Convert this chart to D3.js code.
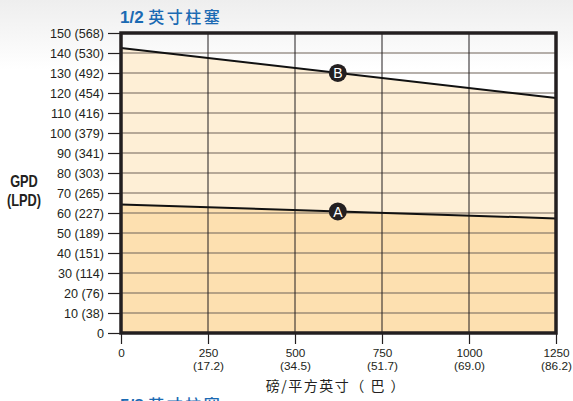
<!DOCTYPE html>
<html>
<head>
<meta charset="utf-8">
<script src="https://cdn.jsdelivr.net/npm/d3@7"></script>
<style>
  html, body { margin: 0; padding: 0; }
  body { width: 573px; height: 401px; overflow: hidden;
         background: linear-gradient(#eeeeee 0px, #ffffff 70px); }
  svg text { font-family: "Liberation Sans", Arial, sans-serif; fill: #231f20; }
</style>
</head>
<body>
<div id="chart"></div>
<script>
// datos
var pressureTicks = [0, 250, 500, 750, 1000, 1250];
var barTicks = ["", "(17.2)", "(34.5)", "(51.7)", "(69.0)", "(86.2)"];
var gpdTicks = [0, 10, 20, 30, 40, 50, 60, 70, 80, 90, 100, 110, 120, 130, 140, 150];
var lpdTicks = ["", "(38)", "(76)", "(114)", "(151)", "(189)", "(227)", "(265)", "(303)", "(341)", "(379)", "(416)", "(454)", "(492)", "(530)", "(568)"];
var seriesNames = ["A", "B"];
var seriesStart = [64.3, 142.5];   // GPD a 0 psi
var seriesEnd = [57.3, 117.5];     // GPD a 1250 psi
var markerPressure = [623, 623];

var margin = {top: 33, right: 17, bottom: 68, left: 121},
    width = 573 - margin.left - margin.right,
    height = 401 - margin.top - margin.bottom;

var narrow = "'Liberation Sans Narrow', 'Liberation Sans', sans-serif";

var x = d3.scaleLinear().domain([0, 1250]).range([0, width]);
var y = d3.scaleLinear().domain([0, 150]).range([height, 0]);

var svg = d3.select("#chart").append("svg")
    .attr("width", 573)
    .attr("height", 401);

var g = svg.append("g")
    .attr("transform", "translate(" + margin.left + "," + margin.top + ")");

var lines = seriesNames.map(function (n, i) {
    return {name: n, pts: [[0, seriesStart[i]], [1250, seriesEnd[i]]]};
});
function valAt(s, p) { return s.pts[0][1] + (s.pts[1][1] - s.pts[0][1]) * p / 1250; }

//areas
var area = d3.area()
    .x(function (d) { return x(d[0]); })
    .y1(function (d) { return y(d[1]); });

g.append("path")
    .datum(lines[1].pts)
    .attr("fill", "#feefd6")
    .attr("d", area.y0(y(0)));

g.append("path")
    .datum(lines[0].pts)
    .attr("fill", "#fde0b0")
    .attr("d", area.y0(y(0)));

//grilla horizontal
g.selectAll(".hgrid")
    .data(gpdTicks.slice(1, -1))
    .enter().append("line")
    .attr("x1", 0).attr("x2", width)
    .attr("y1", function (d) { return y(d); })
    .attr("y2", function (d) { return y(d); })
    .attr("stroke", "#6e6358")
    .attr("stroke-width", 1.1);

//grilla vertical
g.selectAll(".vgrid")
    .data(pressureTicks.slice(1, -1))
    .enter().append("line")
    .attr("y1", 0).attr("y2", height)
    .attr("x1", function (d) { return x(d); })
    .attr("x2", function (d) { return x(d); })
    .attr("stroke", "#231f20")
    .attr("stroke-width", 1);

//lineas
var line = d3.line()
    .x(function (d) { return x(d[0]); })
    .y(function (d) { return y(d[1]); });

g.selectAll(".series")
    .data(lines)
    .enter().append("path")
    .attr("fill", "none")
    .attr("stroke", "#111")
    .attr("stroke-width", 2)
    .attr("d", function (d) { return line(d.pts); });

//ejes
var yAxis = g.append("g")
    .call(d3.axisLeft(y).tickValues(gpdTicks).tickSize(13).tickPadding(4)
        .tickFormat(function (d, i) { return d + (lpdTicks[i] ? " " + lpdTicks[i] : ""); }));
yAxis.select(".domain").remove();
yAxis.selectAll(".tick line").attr("stroke", "#231f20").attr("stroke-width", 1.2);
yAxis.selectAll(".tick text").attr("fill", "#231f20")
    .attr("font-family", narrow)
    .style("font-size", "12.6px");

var xAxis = g.append("g")
    .attr("transform", "translate(0," + height + ")")
    .call(d3.axisBottom(x).tickValues(pressureTicks).tickSize(11).tickPadding(5)
        .tickFormat(function (d) { return d; }));
xAxis.select(".domain").remove();
xAxis.selectAll(".tick line").attr("stroke", "#231f20").attr("stroke-width", 1.2);
xAxis.selectAll(".tick text").style("font-size", "11.8px")
    .attr("font-family", narrow);
xAxis.selectAll(".tick").append("text")
    .attr("y", 29)
    .attr("dy", "0.71em")
    .attr("text-anchor", "middle")
    .attr("fill", "#231f20")
    .style("font-size", "11.8px")
    .attr("font-family", narrow)
    .text(function (d, i) { return barTicks[i]; });

//marco
g.append("rect")
    .attr("width", width).attr("height", height)
    .attr("fill", "none")
    .attr("stroke", "#231f20")
    .attr("stroke-width", 3.5);

//marcadores
var mk = g.selectAll(".marker")
    .data(lines)
    .enter().append("g")
    .attr("transform", function (d, i) {
        return "translate(" + x(markerPressure[i]) + "," + y(valAt(d, markerPressure[i])) + ")";
    });
mk.append("circle").attr("r", 9).attr("fill", "#231f20");
mk.append("text")
    .attr("text-anchor", "middle")
    .attr("dy", "0.37em")
    .style("fill", "#ffffff")
    .style("font-size", "14px")
    .text(function (d) { return d.name; });

//titulos
function addTitle(label, ty) {
    var t = svg.append("text")
        .attr("x", 120).attr("y", ty)
        .style("font-size", "16px")
        .style("fill", "#1b6ab3");
    t.append("tspan").attr("font-family", narrow).style("font-weight", "bold").style("font-size", "17px").text(label + " ");
    t.append("tspan").attr("font-family", "'Noto Sans CJK SC', sans-serif")
        .style("font-weight", "500").style("letter-spacing", "2.5px").text("英寸柱塞");
}
addTitle("1/2", 23);
addTitle("5/8", 411);

svg.append("text")
    .attr("x", 336).attr("y", 391)
    .attr("text-anchor", "middle")
    .style("font-family", "'Noto Sans CJK SC', sans-serif")
    .style("font-size", "14px")
    .style("letter-spacing", "1.5px")
    .text("磅/平方英寸（ 巴 ）");

var ylab = svg.append("text")
    .attr("text-anchor", "middle")
    .attr("transform", "translate(24,0) scale(0.8,1)")
    .attr("font-family", narrow)
    .style("font-size", "16px")
    .style("font-weight", "bold");
ylab.append("tspan").attr("x", 0).attr("y", 187).text("GPD");
ylab.append("tspan").attr("x", 0).attr("y", 206).text("(LPD)");
</script>
</body>
</html>
